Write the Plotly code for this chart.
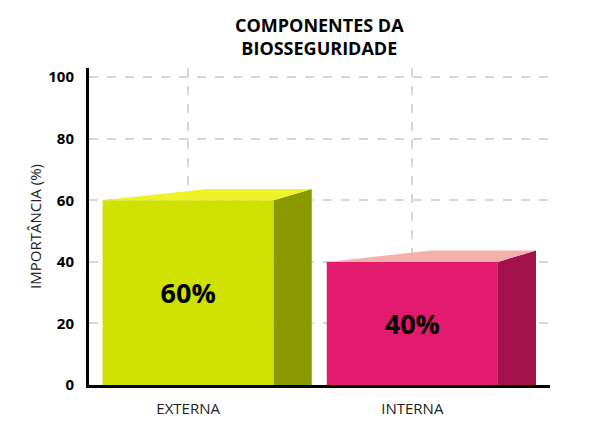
import plotly.graph_objects as go

categorias = ['EXTERNA', 'INTERNA']
valores = [60, 40]
rotulos = ['60%', '40%']
cor_frente = ['#cfe100', '#e31b6f']
cor_topo = ['#eef226', '#f4b1ac']
cor_lado = ['#8a9900', '#a3124b']
y_ticks = [0, 20, 40, 60, 80, 100]

largura = 0.763   # front face width (x units)
prof_x = 0.17     # depth offset in x
prof_y = 3.7      # depth offset in y

fig = go.Figure()

xs = list(range(len(categorias)))

# front faces
fig.add_trace(go.Bar(
    x=xs, y=valores, width=largura,
    marker=dict(color=cor_frente, line=dict(width=0)),
    text=['<b>%s</b>' % r for r in rotulos],
    textposition='inside', insidetextanchor='middle',
    textfont=dict(family='Open Sans', size=27, color='black'),
    hoverinfo='skip', showlegend=False,
))

# side and top faces for the 3D look
for i, v in enumerate(valores):
    esq = xs[i] - largura / 2
    dir_ = xs[i] + largura / 2
    fig.add_trace(go.Scatter(
        x=[dir_, dir_ + prof_x, dir_ + prof_x, dir_, dir_],
        y=[0, 0, v + prof_y, v, 0],
        fill='toself', fillcolor=cor_lado[i], mode='none',
        hoverinfo='skip', showlegend=False,
    ))
    meio = esq + (largura + prof_x) / 2
    fig.add_trace(go.Scatter(
        x=[esq, meio, dir_ + prof_x, dir_, esq],
        y=[v, v + prof_y, v + prof_y, v, v],
        fill='toself', fillcolor=cor_topo[i], mode='none',
        hoverinfo='skip', showlegend=False,
    ))

# title as an annotation so both lines stay inside the page
fig.add_annotation(
    text='<b>COMPONENTES DA<br>BIOSSEGURIDADE</b>',
    xref='paper', yref='paper', x=0.5, y=1, xanchor='center', yanchor='bottom',
    yshift=6, showarrow=False,
    font=dict(family='Open Sans', size=18, color='black', weight=800),
)

# page body adds an 8px offset, margins compensate for it
fig.update_layout(
    width=594, height=433,
    paper_bgcolor='white', plot_bgcolor='white',
    margin=dict(l=81, r=52, t=60, b=56),
    font=dict(family='Open Sans', color='black'),
    xaxis=dict(
        range=[-0.442, 1.614],
        tickvals=xs, ticktext=categorias,
        tickfont=dict(size=15, color='#222'),
        showline=True, linecolor='black', linewidth=3,
        showgrid=True, gridcolor='#d6d6d6', griddash='dash', gridwidth=1.5,
        zeroline=False, ticks='', ticklabelstandoff=8,
    ),
    yaxis=dict(
        range=[0, 103],
        tickvals=y_ticks,
        tickfont=dict(size=15, color='black', weight='bold'),
        showline=True, linecolor='black', linewidth=3,
        showgrid=True, gridcolor='#d6d6d6', griddash='dash', gridwidth=1.5,
        zeroline=False, ticks='', ticklabelstandoff=9,
        title=dict(text='IMPORTÂNCIA (%)', font=dict(size=15, color='#222'), standoff=4),
    ),
)

fig.write_html('out.html')
